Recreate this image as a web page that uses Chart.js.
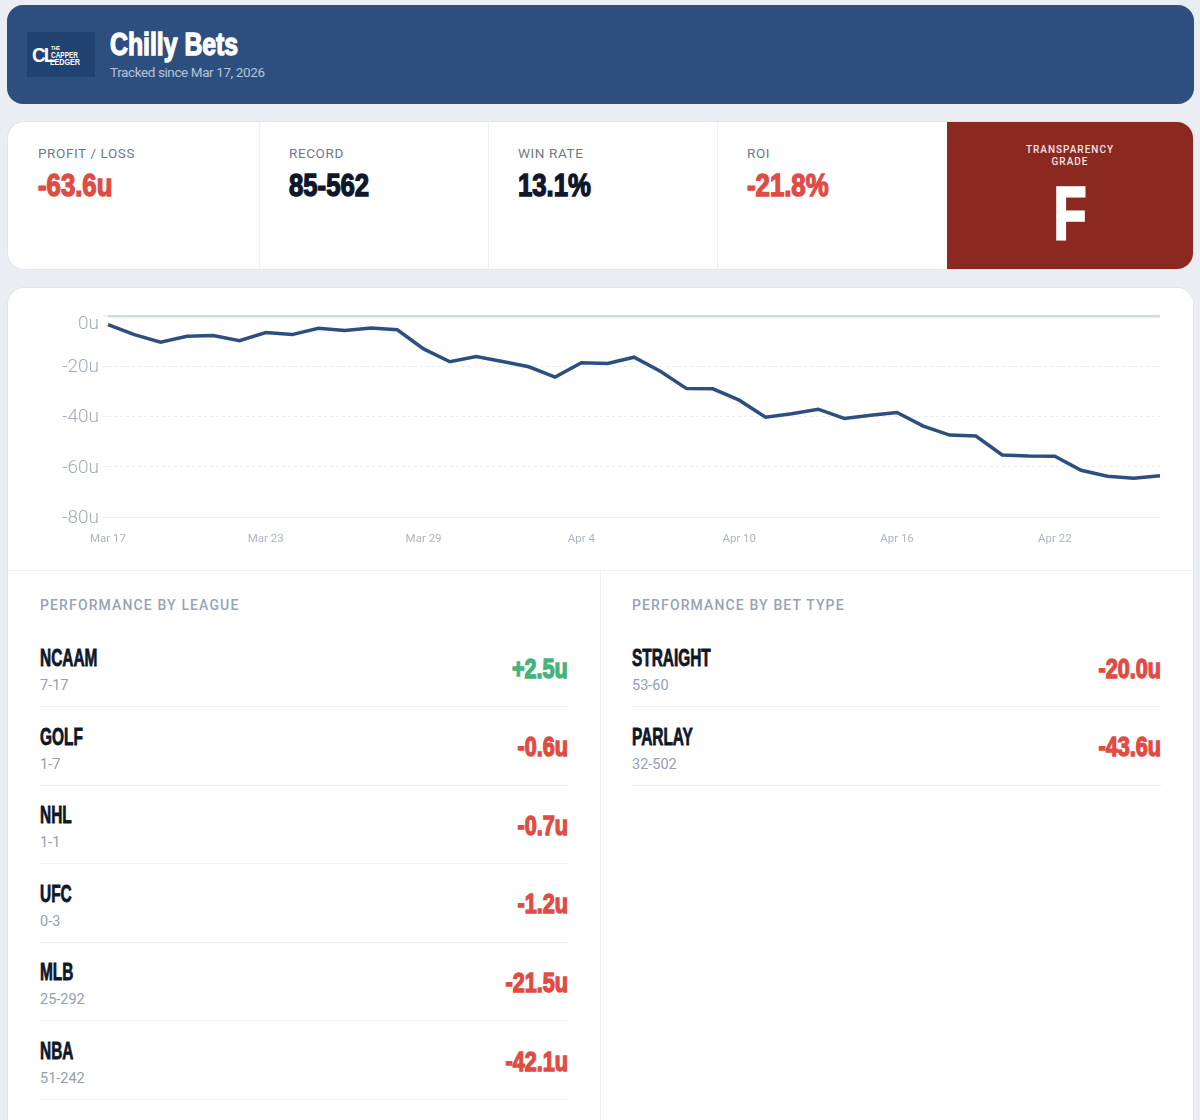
<!DOCTYPE html>
<html>
<head>
<meta charset="utf-8">
<title>Chilly Bets</title>
<script src="https://cdn.jsdelivr.net/npm/chart.js@4"></script>
<style>
  html, body { margin: 0; padding: 0; }
  body { position: relative; width: 1200px; height: 1120px; overflow: hidden; background: #eaeef3; font-family: Roboto, sans-serif; }
  .abs { position: absolute; white-space: nowrap; }
  .heavy { font-family: "Liberation Sans", sans-serif; font-weight: 700; -webkit-text-stroke: 1.4px currentColor; transform-origin: left center; }
  #header { position: absolute; left: 7px; top: 5px; width: 1187px; height: 99px; background: #2c4f7f; border-radius: 16px; }
  #logo { position: absolute; left: 27px; top: 32px; width: 68px; height: 45px; background: #224272; color: #fff; }
  #logo .heavy { -webkit-text-stroke: 0; }
  #stats { position: absolute; left: 8px; top: 122px; width: 1185px; height: 147px; background: #fff; border-radius: 16px; box-shadow: 0 0 0 1px #e2e6ec; overflow: hidden; }
  #grade { position: absolute; left: 939px; top: 0; width: 246px; height: 147px; background: #8b2820; color: #fff; text-align: center; }
  .vline { position: absolute; width: 1px; background: #edf0f4; }
  .hline { position: absolute; height: 1px; background: #eef1f4; }
  #panel { position: absolute; left: 8px; top: 288px; width: 1185px; height: 860px; background: #fff; border-radius: 16px; box-shadow: 0 0 0 1px #e2e6ec; }
  #chartBox { position: absolute; left: 8px; top: 296px; width: 1166px; height: 270px; }
  .statLabel { font-size: 13.5px; letter-spacing: 0.6px; color: #6f7a89; }
  .sectionTitle { font-size: 14px; font-weight: 500; letter-spacing: 1.13px; color: #98a3b5; }
  .recordText { font-size: 14.5px; color: #94a0b2; }
</style>
</head>
<body>
<div id="header"></div>
<div id="logo">
  <span class="abs heavy" style="left:5px;top:11px;font-size:20px;line-height:24px;letter-spacing:-2px;transform:scaleX(.95)">CL</span>
  <span class="abs heavy" style="left:24px;top:13px;font-size:5px;line-height:6px;transform:scaleX(.9)">THE</span>
  <span class="abs heavy" style="left:24px;top:18px;font-size:9px;line-height:10px;transform:scaleX(.72)">CAPPER</span>
  <span class="abs heavy" style="left:23px;top:25px;font-size:9px;line-height:10px;transform:scaleX(.8)">LEDGER</span>
</div>
<div class="abs heavy" style="left:110px;top:26px;font-size:32px;line-height:36px;color:#fff;transform:scaleX(.775)">Chilly Bets</div>
<div class="abs" style="left:110px;top:64px;font-size:13.5px;line-height:17px;letter-spacing:-0.4px;color:#b5c4d9">Tracked since Mar 17, 2026</div>

<div id="stats"><div id="grade">
  <div class="abs" style="left:0;width:246px;top:22px;font-size:10px;line-height:11.5px;font-weight:500;letter-spacing:1px;white-space:normal;color:#f3e4e2">TRANSPARENCY<br>GRADE</div>
  <div class="abs heavy" style="left:0;width:246px;top:50px;font-size:74px;line-height:84px;-webkit-text-stroke-width:3px;transform-origin:center;transform:scaleX(.72)">F</div>
</div></div>

<div id="panel"></div>
<div id="chartBox"><canvas id="profitChart"></canvas></div>

<script>
const days = [
  "Mar 17", "Mar 18", "Mar 19", "Mar 20", "Mar 21", "Mar 22", "Mar 23", "Mar 24", "Mar 25", "Mar 26", "Mar 27",
  "Mar 28", "Mar 29", "Mar 30", "Mar 31", "Apr 1", "Apr 2", "Apr 3", "Apr 4", "Apr 5", "Apr 6",
  "Apr 7", "Apr 8", "Apr 9", "Apr 10", "Apr 11", "Apr 12", "Apr 13", "Apr 14", "Apr 15", "Apr 16",
  "Apr 17", "Apr 18", "Apr 19", "Apr 20", "Apr 21", "Apr 22", "Apr 23", "Apr 24", "Apr 25", "Apr 26"
];
const profit = [
  -3.4, -7.4, -10.4, -8.1, -7.8, -9.8, -6.6, -7.4, -4.9, -5.8, -4.8,
  -5.5, -13.1, -18.2, -16.1, -18.1, -20.2, -24.3, -18.6, -18.9, -16.4,
  -22, -28.9, -29, -33.5, -40.3, -38.9, -37.1, -40.8, -39.5, -38.4,
  -43.8, -47.4, -47.8, -55.3, -55.7, -55.8, -61.4, -63.8, -64.6, -63.6
];
const xTickDays = ["Mar 17", "Mar 23", "Mar 29", "Apr 4", "Apr 10", "Apr 16", "Apr 22"];

const statNames = ["PROFIT / LOSS", "RECORD", "WIN RATE", "ROI"];
const statValues = ["-63.6u", "85-562", "13.1%", "-21.8%"];
const statColors = ["#df4c43", "#0f172a", "#0f172a", "#df4c43"];

const leagues = ["NCAAM", "GOLF", "NHL", "UFC", "MLB", "NBA"];
const leagueRecords = ["7-17", "1-7", "1-1", "0-3", "25-292", "51-242"];
const leagueUnits = ["+2.5u", "-0.6u", "-0.7u", "-1.2u", "-21.5u", "-42.1u"];

const betTypes = ["STRAIGHT", "PARLAY"];
const betRecords = ["53-60", "32-502"];
const betUnits = ["-20.0u", "-43.6u"];

function addDiv(cls, style, text) {
  const el = document.createElement("div");
  el.className = cls;
  el.style.cssText = style;
  if (text) el.textContent = text;
  document.body.appendChild(el);
  return el;
}

// stat cells
const statX = [38, 289, 518, 747];
statNames.forEach((name, i) => {
  addDiv("abs statLabel", `left:${statX[i]}px;top:145px;line-height:16px`, name);
  addDiv("abs heavy", `left:${statX[i]}px;top:167.5px;font-size:31px;line-height:36px;color:${statColors[i]};transform:scaleX(.83)`, statValues[i]);
});
[259, 488, 717].forEach(x => addDiv("vline", `left:${x}px;top:122px;height:147px`));

// panels below the chart
addDiv("hline", "left:8px;top:570px;width:1185px");
addDiv("vline", "left:600px;top:570px;height:550px");
addDiv("abs sectionTitle", "left:40px;top:597px;line-height:17px", "PERFORMANCE BY LEAGUE");
addDiv("abs sectionTitle", "left:632px;top:597px;line-height:17px", "PERFORMANCE BY BET TYPE");

function addRows(names, records, units, left, right) {
  names.forEach((name, i) => {
    const dy = i * 78.6;
    const color = units[i].startsWith("+") ? "#46b27c" : "#df4c43";
    addDiv("abs heavy", `left:${left}px;top:${645 + dy}px;font-size:23px;line-height:26px;color:#0f172a;-webkit-text-stroke-width:0.8px;transform:scaleX(.67)`, name);
    addDiv("abs recordText", `left:${left}px;top:${677 + dy}px;line-height:17px`, records[i]);
    addDiv("abs heavy", `right:${1200 - right}px;top:${653.5 + dy}px;font-size:27px;line-height:30px;color:${color};transform-origin:right center;transform:scaleX(.8)`, units[i]);
    addDiv("hline", `left:${left}px;top:${706 + dy}px;width:${right - left}px`);
  });
}
addRows(leagues, leagueRecords, leagueUnits, 40, 568);
addRows(betTypes, betRecords, betUnits, 632, 1161);

new Chart(document.getElementById("profitChart"), {
  type: "line",
  data: {
    labels: days,
    datasets: [{
      data: profit,
      borderColor: "#2c4f7f",
      borderWidth: 3.5,
      pointRadius: 0,
      tension: 0,
      clip: false
    }]
  },
  options: {
    responsive: true,
    maintainAspectRatio: false,
    animation: false,
    layout: { padding: { top: 19.5, right: 14, left: 0, bottom: 0 } },
    plugins: { legend: { display: false }, tooltip: { enabled: false } },
    scales: {
      x: {
        afterFit: scale => { scale.height = 49; },
        grid: { display: false },
        border: { display: false },
        ticks: {
          autoSkip: false,
          maxRotation: 0,
          padding: 7,
          color: "#adb5c3",
          font: { family: "Roboto", size: 11.5 },
          callback: function (value) {
            const label = this.getLabelForValue(value);
            return xTickDays.includes(label) ? label : "";
          }
        }
      },
      y: {
        min: -80,
        max: 0,
        afterFit: scale => { scale.width = 100; },
        border: {
          display: false,
          dash: ctx => (ctx.tick && ctx.tick.value < 0 && ctx.tick.value > -80 ? [3, 3] : [])
        },
        grid: {
          color: ctx => (ctx.tick.value === 0 ? "#d2dce0" : "#e9edf2"),
          lineWidth: ctx => (ctx.tick.value === 0 ? 2.5 : 1),
          tickLength: 5,
          tickColor: "#eef1f4"
        },
        ticks: {
          stepSize: 20,
          padding: 4,
          color: "#a3acbb",
          // empty first line pushes labels down: a lot for 0u (under the zero line), 1px for the rest
          font: ctx => ({ family: "Roboto", size: 19, weight: "300", lineHeight: ctx.tick && ctx.tick.value === 0 ? "16px" : "2px" }),
          callback: value => ["", value + "u"]
        }
      }
    }
  }
});
</script>
</body>
</html>
